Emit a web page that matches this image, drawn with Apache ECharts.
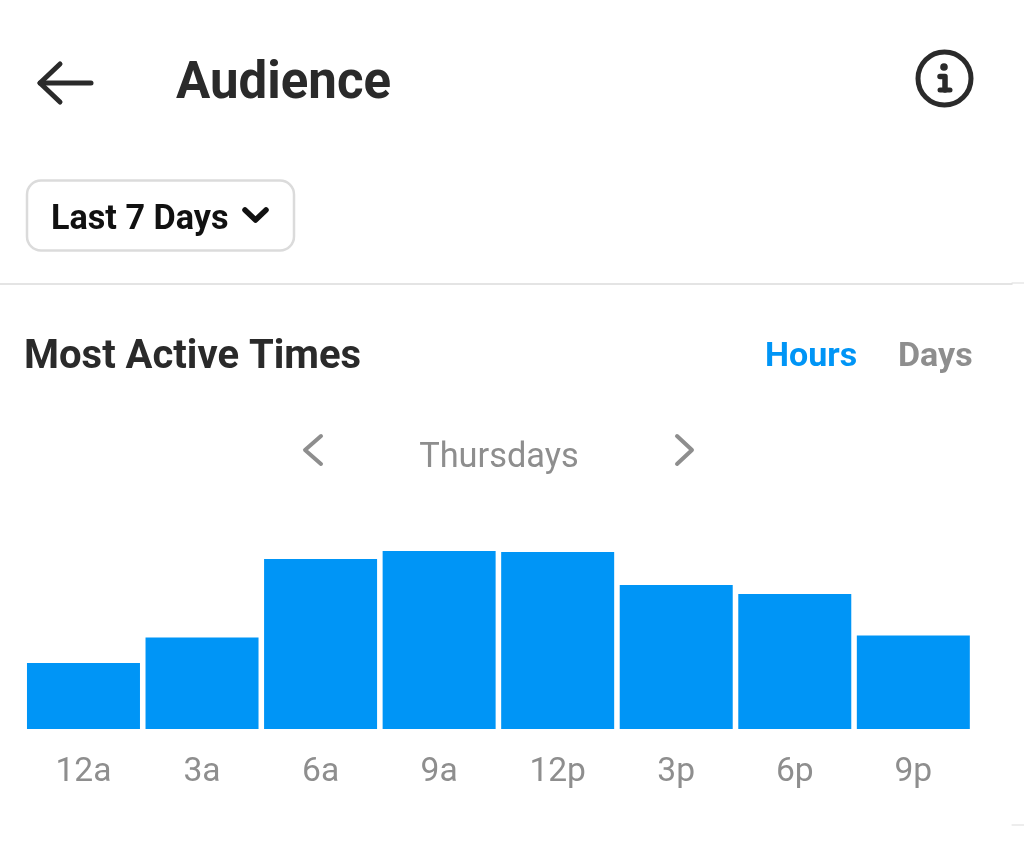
<!DOCTYPE html>
<html>
<head>
<meta charset="utf-8">
<title>Audience</title>
<style>
  html, body { margin: 0; padding: 0; background: #fff; }
  #chart { width: 1024px; height: 851px; }
</style>
<script src="https://cdn.jsdelivr.net/npm/echarts@6/dist/echarts.min.js"></script>
</head>
<body>
<div id="chart"></div>
<script>
const hours = ['12a', '3a', '6a', '9a', '12p', '3p', '6p', '9p']
const activity = [66, 91.5, 170, 178, 177, 144, 135, 93.5]

const FONT = 'Roboto'
const DARK = '#2a2a2a'
const GREY = '#8e8e8e'
const BLUE = '#0095f6'

function label(x, y, text, size, weight, color, align) {
    return {
        type: 'text', x, y,
        style: { text, fontFamily: FONT, fontSize: size, fontWeight: weight, fill: color, align: align || 'left', verticalAlign: 'middle' }
    }
}

function stroke(points, color, width) {
    return {
        type: 'polyline',
        shape: { points },
        style: { stroke: color, lineWidth: width, fill: null, lineCap: 'round', lineJoin: 'round' }
    }
}

const header = [
    // back arrow
    stroke([[40, 83], [91, 83]], DARK, 5),
    stroke([[60, 64], [40, 83], [60, 102]], DARK, 5),
    label(176, 85.5, 'Audience', 51, 700, DARK),

    // info icon
    { type: 'circle', shape: { cx: 944.5, cy: 78.5, r: 26.5 }, style: { stroke: DARK, lineWidth: 5, fill: null } },
    { type: 'circle', shape: { cx: 944, cy: 67, r: 3.8 }, style: { fill: DARK } },
    stroke([[940, 76.5], [945, 76.5], [945, 90]], DARK, 5.5),
    stroke([[940, 90], [950, 90]], DARK, 5),

    // period dropdown
    { type: 'rect', shape: { x: 27, y: 180.5, width: 267, height: 70, r: 14 }, style: { stroke: '#dbdbdb', lineWidth: 2.5, fill: '#fff' } },
    label(51, 220, 'Last 7 Days', 34.2, 700, '#111'),
    stroke([[245, 210], [255.5, 220], [266, 210]], '#111', 5.5),

    // dividers
    stroke([[0, 284], [1012, 284]], '#dbdbdb', 1.5),
    stroke([[1012, 283], [1024, 283]], '#dbdbdb', 1),
    stroke([[1012, 825], [1024, 825]], '#dbdbdb', 1),

    label(24, 358, 'Most Active Times', 40, 700, DARK),
    label(765, 357.5, 'Hours', 34, 700, BLUE),
    label(898, 357.5, 'Days', 34, 700, GREY),

    // day switcher
    stroke([[321, 436], [305, 450], [321, 464]], GREY, 4),
    label(499, 458.5, 'Thursdays', 34.4, 400, GREY, 'center'),
    stroke([[677, 436], [692, 450], [677, 464]], GREY, 4)
]

const myCharts = echarts.init(document.getElementById('chart'), null, { renderer: 'canvas' })
myCharts.setOption({
    backgroundColor: '#fff',
    animation: false,
    graphic: header,
    grid: { left: 24.2, width: 948.4, top: 529, height: 200 },
    xAxis: {
        type: 'category',
        data: hours,
        axisLine: { show: false },
        axisTick: { show: false },
        axisLabel: { color: GREY, fontFamily: FONT, fontSize: 33.6, margin: 27 }
    },
    yAxis: { type: 'value', min: 0, max: 200, show: false, splitLine: { show: false } },
    series: [{
        type: 'bar',
        data: activity,
        barWidth: 113,
        itemStyle: { color: BLUE }
    }]
})
</script>
</body>
</html>
